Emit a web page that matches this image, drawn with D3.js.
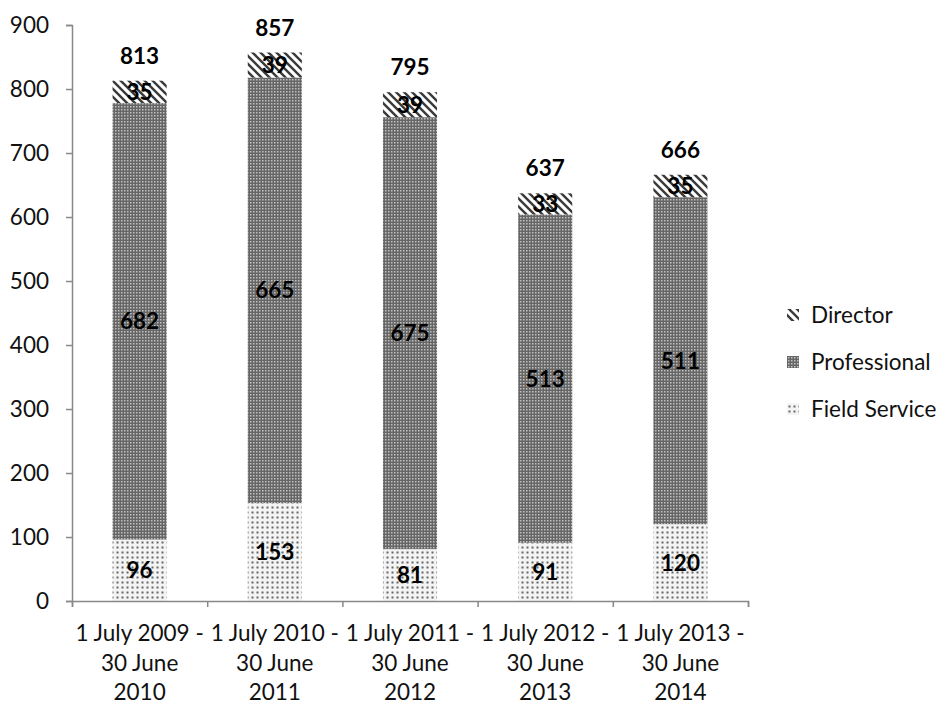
<!DOCTYPE html>
<html>
<head>
<meta charset="utf-8">
<script src="https://cdn.jsdelivr.net/npm/d3@7"></script>
<style>
  html, body { margin: 0; padding: 0; background: #fff; }
  svg { display: block; font-family: Lato, "Open Sans", sans-serif; }
</style>
</head>
<body>
<svg id="chart" width="941" height="706"></svg>
<script>
// Staff counts by reporting period
const periods = [
  ["1 July 2009 -", "30 June", "2010"],
  ["1 July 2010 -", "30 June", "2011"],
  ["1 July 2011 -", "30 June", "2012"],
  ["1 July 2012 -", "30 June", "2013"],
  ["1 July 2013 -", "30 June", "2014"]
];
const fieldService = [96, 153, 81, 91, 120];
const professional = [682, 665, 675, 513, 511];
const director = [35, 39, 39, 33, 35];
const totals = [813, 857, 795, 637, 666];
const seriesNames = ["Field Service", "Professional", "Director"];
const yTicks = [0, 100, 200, 300, 400, 500, 600, 700, 800, 900];

const FS = 22.5;
const svg = d3.select("#chart");
const margin = { left: 72, right: 193, top: 25, bottom: 105 };
const W = 941, H = 706;

// Fill patterns
const defs = svg.append("defs");

const pDir = defs.append("pattern").attr("id", "pat-director")
  .attr("patternUnits", "userSpaceOnUse").attr("width", 8).attr("height", 8);
pDir.append("rect").attr("width", 8).attr("height", 8).attr("fill", "#fff");
pDir.append("path").attr("d", "M-2,-2 L10,10 M-2,6 L2,10 M6,-2 L10,2")
  .attr("stroke", "#3a3a3a").attr("stroke-width", 2.4);

const pPro = defs.append("pattern").attr("id", "pat-professional")
  .attr("patternUnits", "userSpaceOnUse").attr("width", 3).attr("height", 3);
pPro.append("rect").attr("width", 3).attr("height", 3).attr("fill", "#666");
pPro.append("rect").attr("x", 1).attr("y", 1).attr("width", 1.5).attr("height", 1.5).attr("fill", "#c0c0c0");

const pFs = defs.append("pattern").attr("id", "pat-field")
  .attr("patternUnits", "userSpaceOnUse").attr("width", 5).attr("height", 5);
pFs.append("rect").attr("width", 5).attr("height", 5).attr("fill", "#f4f4f4");
pFs.append("rect").attr("x", 1.5).attr("y", 1.5).attr("width", 2).attr("height", 2).attr("fill", "#666");

const fills = {
  "Field Service": "url(#pat-field)",
  "Professional": "url(#pat-professional)",
  "Director": "url(#pat-director)"
};

const x = d3.scaleBand()
  .domain(d3.range(periods.length))
  .range([margin.left, W - margin.right])
  .paddingInner(0.6).paddingOuter(0.3);

const xEdge = d3.scaleLinear()
  .domain([0, periods.length])
  .range([margin.left, W - margin.right]);

const y = d3.scaleLinear().domain([0, 900]).range([H - margin.bottom, margin.top]);

const rows = periods.map((p, i) => ({
  i,
  "Field Service": fieldService[i],
  "Professional": professional[i],
  "Director": director[i]
}));
const stacked = d3.stack().keys(seriesNames)(rows);

// bars
const layers = svg.append("g").selectAll("g").data(stacked).join("g")
  .attr("fill", d => fills[d.key]);
layers.selectAll("rect").data(d => d).join("rect")
  .attr("x", d => x(d.data.i))
  .attr("width", x.bandwidth())
  .attr("y", d => y(d[1]))
  .attr("height", d => y(d[0]) - y(d[1]));

// segment labels
layers.selectAll("text").data(d => d.map(v => ({ v, key: d.key }))).join("text")
  .attr("x", d => x(d.v.data.i) + x.bandwidth() / 2)
  .attr("y", d => (y(d.v[0]) + y(d.v[1])) / 2)
  .attr("dy", "0.36em")
  .attr("text-anchor", "middle")
  .attr("font-size", FS).attr("font-weight", "bold").attr("fill", "#000")
  .text(d => d.v.data[d.key]);

// totals
svg.append("g").selectAll("text").data(totals).join("text")
  .attr("x", (d, i) => x(i) + x.bandwidth() / 2)
  .attr("y", d => y(d) - 25)
  .attr("dy", "0.36em")
  .attr("text-anchor", "middle")
  .attr("font-size", FS).attr("font-weight", "bold").attr("fill", "#000")
  .text(d => d);

// y axis
const yAxis = svg.append("g").attr("transform", `translate(${margin.left},0)`)
  .call(d3.axisLeft(y).tickValues(yTicks).tickSize(6).tickPadding(17));
yAxis.select(".domain").attr("stroke", "#888").attr("stroke-width", 1.5);
yAxis.selectAll(".tick line").attr("stroke", "#888").attr("stroke-width", 1.5);
yAxis.selectAll(".tick text").attr("font-size", FS).attr("fill", "#111")
  .attr("font-family", "Lato, 'Open Sans', sans-serif");

// x axis
const xAxis = svg.append("g").attr("transform", `translate(0,${y(0)})`)
  .call(d3.axisBottom(xEdge).tickValues(d3.range(periods.length + 1)).tickSize(6).tickFormat(""));
xAxis.select(".domain").attr("stroke", "#888").attr("stroke-width", 1.5);
xAxis.selectAll(".tick line").attr("stroke", "#888").attr("stroke-width", 1.5);

const xl = svg.append("g").selectAll("text").data(periods).join("text")
  .attr("text-anchor", "middle")
  .attr("font-size", FS).attr("fill", "#111")
  .attr("transform", (d, i) => `translate(${x(i) + x.bandwidth() / 2},${y(0) + 40})`);
xl.selectAll("tspan").data(d => d).join("tspan")
  .attr("x", 0).attr("y", (d, j) => j * 29.5)
  .text(d => d);

// legend
const legendItems = ["Director", "Professional", "Field Service"];
const lg = svg.append("g").attr("transform", "translate(787,315)");
const li = lg.selectAll("g").data(legendItems).join("g")
  .attr("transform", (d, i) => `translate(0,${i * 47})`);
li.append("rect").attr("x", 0).attr("y", -6).attr("width", 12).attr("height", 12)
  .attr("fill", d => fills[d]);
li.append("text").attr("x", 24).attr("dy", "0.36em")
  .attr("font-size", FS).attr("fill", "#111").text(d => d);
</script>
</body>
</html>
